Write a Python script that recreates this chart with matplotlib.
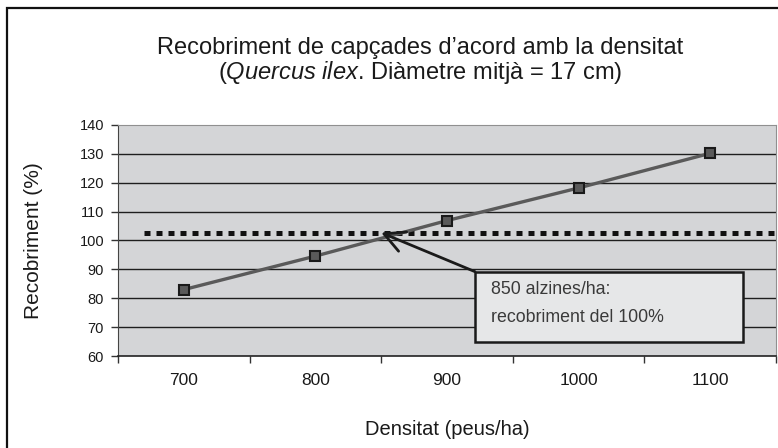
import numpy as np
import matplotlib
matplotlib.use("Agg")
import matplotlib.pyplot as plt
from matplotlib.patches import Rectangle

plt.rcParams['font.family'] = ['Liberation Sans', 'DejaVu Sans']
plt.rcParams['mathtext.fontset'] = 'custom'
plt.rcParams['mathtext.rm'] = 'Liberation Sans'
plt.rcParams['mathtext.it'] = 'Liberation Sans:italic'

# data
densitat = [700, 800, 900, 1000, 1100]
recobriment = [83.0, 94.6, 106.9, 118.2, 130.2]
nivell_100 = 102.7          # dotted reference line
punt_100 = (850, 102.7)     # where the arrow points
y_ticks = [60, 70, 80, 90, 100, 110, 120, 130, 140]

title_1 = "Recobriment de capçades d\u2019acord amb la densitat"
title_2 = r"($\mathit{Quercus\ ilex}$. Diàmetre mitjà = 17 cm)"
note_1 = "850 alzines/ha:"
note_2 = "recobriment del 100%"

fig = plt.figure(figsize=(7.78, 4.48), dpi=100)
fig.patch.set_facecolor('white')
ax = fig.add_axes([118 / 778, 1 - 356 / 448, 658 / 778, 231 / 448])
ax.set_facecolor('#d4d5d7')

# outer chart frame (only left and top are visible in the crop)
fig.add_artist(Rectangle((0.009, -0.5), 2.0, 0.982 + 0.5, transform=fig.transFigure,
                         fill=False, edgecolor='#111111', lw=1.6))

ax.set_xlim(650, 1150)
ax.set_ylim(60, 140)

for v in y_ticks[1:-1]:
    ax.axhline(v, color='#1e1e1e', lw=1.0, zorder=1)

ax.plot([670, 1150], [nivell_100, nivell_100], color='#111111', lw=3.6,
        linestyle=(0, (1.2, 1.2)), dash_capstyle='butt', zorder=2, clip_on=False)

ax.plot(densitat, recobriment, color='#5a5a5a', lw=2.4, marker='s', markersize=6.5,
        markerfacecolor='#5a5a5a', markeredgecolor='#1a1a1a', markeredgewidth=1.5, zorder=3)

# annotation box + arrow
box = Rectangle((0.5426, 0.062), 0.950 - 0.5426, 0.365 - 0.062, transform=ax.transAxes,
                facecolor='#e6e7e8', edgecolor='#1a1a1a', lw=1.8, zorder=4)
ax.add_patch(box)
ax.text(0.567, 0.286, note_1, transform=ax.transAxes, fontsize=12.8, color='#3a3a3a',
        va='center', ha='left', zorder=5)
ax.text(0.567, 0.165, note_2, transform=ax.transAxes, fontsize=12.8, color='#3a3a3a',
        va='center', ha='left', zorder=5)
ax.annotate('', xy=punt_100, xycoords='data', xytext=(0.5426, 0.365), textcoords='axes fraction',
            arrowprops=dict(arrowstyle='->, head_length=1.45, head_width=0.75', color='#1a1a1a',
                            lw=2.0, shrinkA=0, shrinkB=0), zorder=5)

# axes styling
ax.set_yticks(y_ticks)
ax.set_xticks(densitat)
ax.set_xticks([650, 750, 850, 950, 1050, 1150], minor=True)
ax.tick_params(axis='y', direction='out', length=5, width=1, color='#333333',
               labelsize=10.5, labelcolor='#1a1a1a', pad=5)
ax.tick_params(axis='x', which='major', length=0, labelsize=12.5, labelcolor='#1a1a1a', pad=12)
ax.tick_params(axis='x', which='minor', direction='out', length=5, width=1, color='#333333')
ax.spines['left'].set_color('#444444')
ax.spines['bottom'].set_color('#222222')
ax.spines['bottom'].set_linewidth(1.2)
ax.spines['top'].set_color('#909090')
ax.spines['right'].set_color('#909090')

ax.set_xlabel("Densitat (peus/ha)", fontsize=14.5, color='#1a1a1a', labelpad=23)
ax.set_ylabel("Recobriment (%)", fontsize=15, color='#1a1a1a', labelpad=26)

fig.text(420 / 778, 1 - 48 / 448, title_1, fontsize=17, color='#1a1a1a', ha='center', va='center')
fig.text(420 / 778, 1 - 73 / 448, title_2, fontsize=17, color='#1a1a1a', ha='center', va='center')

fig.savefig('out.png', dpi=100)
